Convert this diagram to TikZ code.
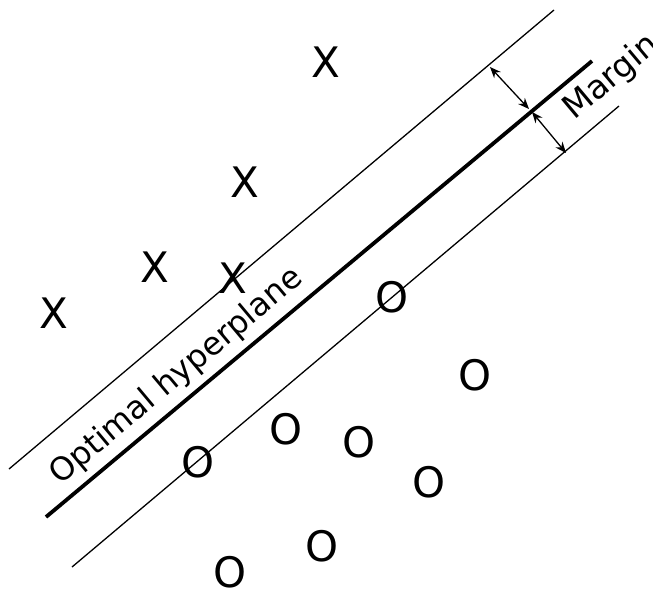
\documentclass[tikz,border=0pt]{standalone}
\usepackage{fontspec}
\setmainfont{DejaVu Sans}
\usetikzlibrary{arrows.meta}
\begin{document}
\begin{tikzpicture}[x=1pt,y=-1pt,
  thinline/.style={line width=1.3pt},
  thickline/.style={line width=3.8pt},
  marginarrow/.style={line width=1.3pt,{Stealth[length=11pt,width=9pt]}-{Stealth[length=11pt,width=9pt]}},
  pt/.style={inner sep=0pt,font=\fontsize{42}{42}\selectfont},
  lbl/.style={inner sep=0pt,anchor=base west,rotate=40}]
\useasboundingbox (0,0) rectangle (653,590);
% lines
\coordinate (u1) at (9,469);   \coordinate (u2) at (554,10);
\coordinate (h1) at (46,517);  \coordinate (h2) at (592,61);
\coordinate (l1) at (72,567);  \coordinate (l2) at (619,106);
\draw[thinline] (u1) -- (u2);
\draw[thickline] (h1) -- (h2);
\draw[thinline] (l1) -- (l2);
% margin arrows
\coordinate (a1) at (490,67);  \coordinate (a2) at (529,109);
\coordinate (b1) at (532,112); \coordinate (b2) at (566,153);
\draw[marginarrow] (a1) -- (a2);
\draw[marginarrow] (b1) -- (b2);
% labels
\node[lbl,font=\fontsize{32}{32}\selectfont] (opt) at (60.5,485.5) {Optimal hyperplane};
\node[lbl,font=\fontsize{33}{33}\selectfont] (mar) at (574.4,121.1) {Margin};
% X points
\node[pt] (x1) at (325.5,62.5) {X};
\node[pt] (x2) at (245.3,182) {X};
\node[pt] (x3) at (155,267.5) {X};
\node[pt] (x4) at (233,278) {X};
\node[pt] (x5) at (54,313) {X};
% O points
\node[pt] (o1) at (392.5,297) {O};
\node[pt] (o2) at (475,375) {O};
\node[pt] (o3) at (286,429) {O};
\node[pt] (o4) at (359,442.5) {O};
\node[pt] (o5) at (198,462.5) {O};
\node[pt] (o6) at (429,482.5) {O};
\node[pt] (o7) at (322.5,546.5) {O};
\node[pt] (o8) at (230,572) {O};
\end{tikzpicture}
\end{document}
